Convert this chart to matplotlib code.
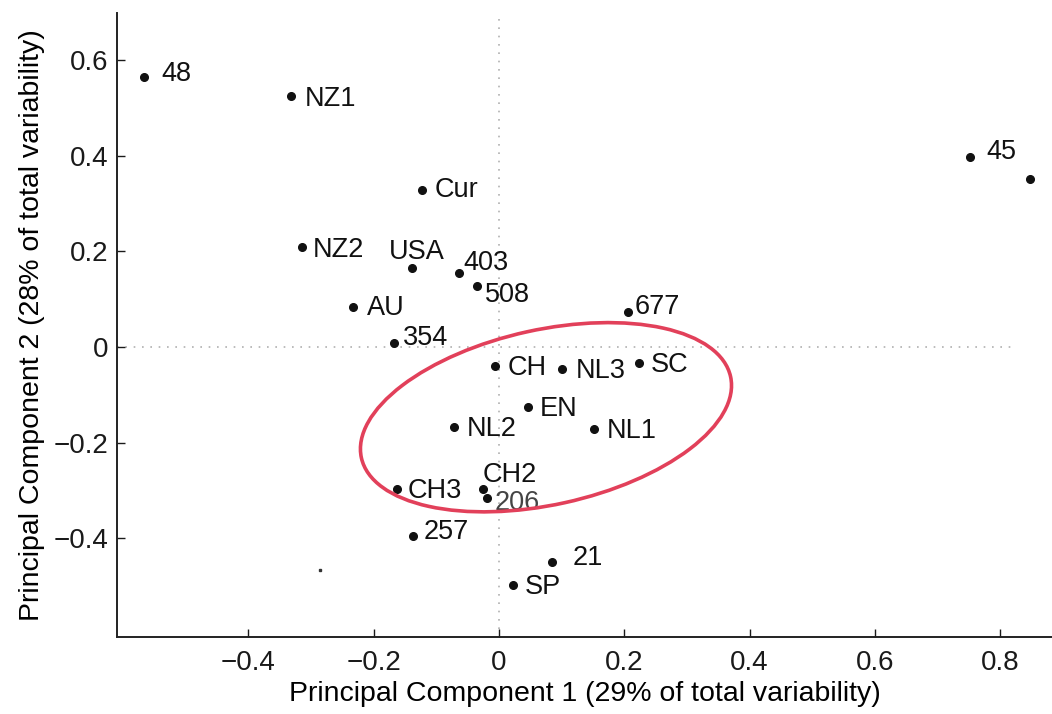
import matplotlib
matplotlib.use('Agg')
import matplotlib.pyplot as plt
import numpy as np
from matplotlib.patches import Ellipse
from matplotlib.transforms import ScaledTranslation

plt.rcParams['font.family'] = ['Liberation Sans', 'DejaVu Sans']

# PCA scores
labels = ['48', 'NZ1', 'Cur', 'NZ2', 'USA', '403', '508', 'AU', '354', '677',
          '45', '', 'CH', 'NL3', 'SC', 'EN', 'NL2', 'NL1', 'CH3', 'CH2',
          '206', '257', '21', 'SP']
pc1 = [-0.567, -0.332, -0.123, -0.315, -0.139, -0.064, -0.035, -0.233, -0.168, 0.206,
       0.752, 0.848, -0.006, 0.101, 0.224, 0.046, -0.072, 0.152, -0.163, -0.026,
       -0.019, -0.137, 0.085, 0.022]
pc2 = [0.565, 0.526, 0.329, 0.209, 0.166, 0.155, 0.128, 0.084, 0.008, 0.073,
       0.398, 0.352, -0.040, -0.046, -0.034, -0.126, -0.168, -0.172, -0.297, -0.297,
       -0.316, -0.396, -0.450, -0.498]

# label placement relative to the dot, in pixels (dx right, dy up) and alignment
label_dx = [17, 14, 13, 11, 5, 4, 8, 14, 9, 7, 16, 0, 12, 13, 11, 12, 13, 13, 11, 0, 8, 10, 20, 12]
label_dy = [3, -3, 0, -3, 16, 10, -9, -1, 5, 5, 5, 0, -2, -2, -2, -2, -2, -2, -2, 14, -5, 4, 4, -2]
label_ha = ['left'] * len(labels)
label_ha[4] = 'center'

x_ticks = [-0.4, -0.2, 0, 0.2, 0.4, 0.6, 0.8]
y_ticks = [-0.4, -0.2, 0, 0.2, 0.4, 0.6]

fig = plt.figure(figsize=(10.52, 7.14), dpi=100)
ax = fig.add_axes([0.1112, 0.1078, 0.8888, 0.874])

ax.hlines(0, -0.61, 0.825, colors='#b0b0b0', linestyles=(0, (1, 4)), linewidth=1.2, zorder=1)
ax.vlines(0, -0.59, 0.69, colors='#b0b0b0', linestyles=(0, (1, 4)), linewidth=1.2, zorder=1)

ax.plot(pc1, pc2, 'o', color='#111111', markersize=5.5, zorder=3)
ax.plot([-0.286], [-0.467], 's', color='#333333', markersize=2, zorder=3)

for lab, x, y, dx, dy, ha in zip(labels, pc1, pc2, label_dx, label_dy, label_ha):
    if not lab:
        continue
    ax.annotate(lab, (x, y), xytext=(dx * 0.72, dy * 0.72), textcoords='offset points',
                ha=ha, va='center', fontsize=19.5,
                color='#444444' if lab == '206' else '#111111', zorder=4)

# red ellipse drawn in pixel units around its data centre
el = Ellipse((0, 0), width=3.78, height=1.75, angle=12.4, fill=False,
             edgecolor='#e2405a', linewidth=2.6, zorder=5,
             transform=fig.dpi_scale_trans + ScaledTranslation(0.075, -0.147, ax.transData))
ax.add_patch(el)

ax.set_xlim(-0.61, 0.883)
ax.set_ylim(-0.607, 0.699)
ax.set_xticks(x_ticks)
ax.set_yticks(y_ticks)
ax.set_xticklabels(['\u22120.4', '\u22120.2', '0', '0.2', '0.4', '0.6', '0.8'])
ax.set_yticklabels(['\u22120.4', '\u22120.2', '0', '0.2', '0.4', '0.6'])
ax.tick_params(direction='in', length=6, width=1, labelsize=20, colors='#1a1a1a')
ax.tick_params(axis='x', pad=9)
ax.tick_params(axis='y', pad=6)
for s in ['top', 'right']:
    ax.spines[s].set_visible(False)
for s in ['left', 'bottom']:
    ax.spines[s].set_linewidth(1.4)
    ax.spines[s].set_color('#222222')

ax.set_xlabel('Principal Component 1 (29% of total variability)', fontsize=20.5, labelpad=4)
ax.set_ylabel('Principal Component 2 (28% of total variability)', fontsize=20.5, labelpad=6)

fig.savefig('out.png', dpi=100)
